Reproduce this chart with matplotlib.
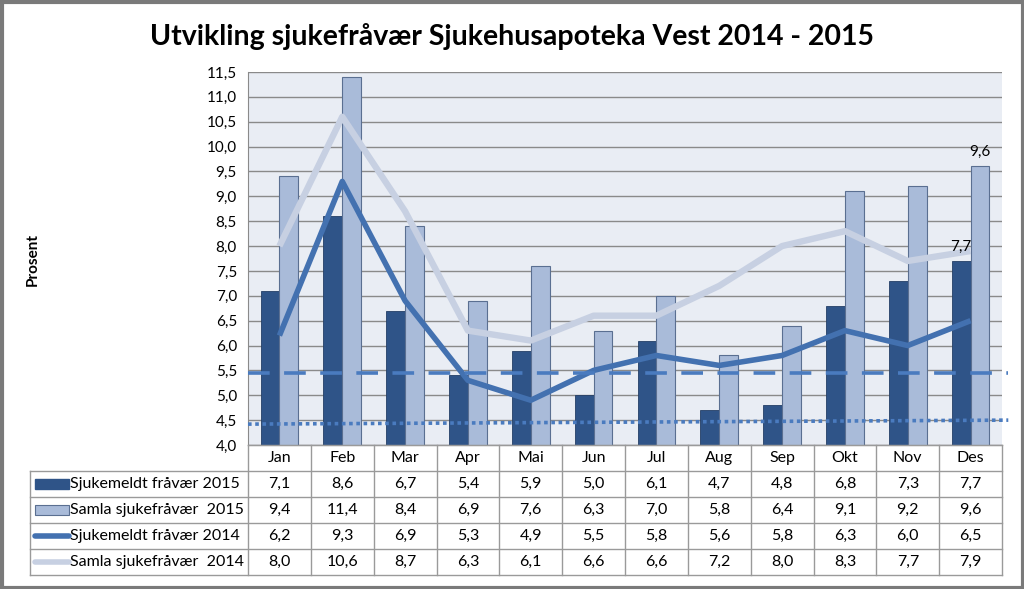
import numpy as np
import matplotlib.pyplot as plt
from matplotlib.patches import Rectangle

plt.rcParams['font.family'] = ['Lato', 'DejaVu Sans']

months = ['Jan', 'Feb', 'Mar', 'Apr', 'Mai', 'Jun', 'Jul', 'Aug', 'Sep', 'Okt', 'Nov', 'Des']
sjuk_2015 = [7.1, 8.6, 6.7, 5.4, 5.9, 5.0, 6.1, 4.7, 4.8, 6.8, 7.3, 7.7]
samla_2015 = [9.4, 11.4, 8.4, 6.9, 7.6, 6.3, 7.0, 5.8, 6.4, 9.1, 9.2, 9.6]
sjuk_2014 = [6.2, 9.3, 6.9, 5.3, 4.9, 5.5, 5.8, 5.6, 5.8, 6.3, 6.0, 6.5]
samla_2014 = [8.0, 10.6, 8.7, 6.3, 6.1, 6.6, 6.6, 7.2, 8.0, 8.3, 7.7, 7.9]
series_names = ['Sjukemeldt fråvær 2015', 'Samla sjukefråvær  2015',
                'Sjukemeldt fråvær 2014', 'Samla sjukefråvær  2014']
mal_niva = 5.45          # dashed target line
trend_start, trend_end = 4.42, 4.50   # dotted trend line

c_dark = '#2f5488'
c_light = '#a9bbd9'
c_line14 = '#4371b0'
c_line14_light = '#c7d0e2'
c_ref = '#4a7bbf'

W, H = 1024, 589
fig = plt.figure(figsize=(W / 100, H / 100), dpi=100)

# plot area in pixel terms
x0, x1, y_top, y_bot = 248, 1002, 72, 445
ax = fig.add_axes([x0 / W, 1 - y_bot / H, (x1 - x0) / W, (y_bot - y_top) / H])
ax.set_facecolor('#e9edf4')
x = np.arange(len(months))
bw = 0.3
ax.bar(x - bw / 2, sjuk_2015, bw, color=c_dark, edgecolor='#243f66', lw=0.6, zorder=2)
ax.bar(x + bw / 2, samla_2015, bw, color=c_light, edgecolor='#5a6f91', lw=0.8, zorder=2)
ax.plot(x, samla_2014, color=c_line14_light, lw=4.6, zorder=3, solid_capstyle='butt')
ax.plot(x, sjuk_2014, color=c_line14, lw=4.0, zorder=4, solid_capstyle='butt')
ax.plot([-0.5, 11.6], [mal_niva, mal_niva], color=c_ref, lw=2.6, ls=(0, (6, 4)),
        zorder=5, clip_on=False)
ax.plot([-0.5, 11.6], [trend_start, trend_end], color=c_ref, lw=2.6, ls=(0, (1, 1)),
        zorder=5, clip_on=False)

ax.text(x[-1] + bw / 2, samla_2015[-1] + 0.15, '9,6', ha='center', va='bottom', fontsize=11)
ax.text(x[-1] - bw / 2, sjuk_2015[-1] + 0.15, '7,7', ha='center', va='bottom', fontsize=11, zorder=3)

ax.set_xlim(-0.5, 11.5)
ax.set_ylim(4.0, 11.5)
yt = np.arange(4.0, 11.51, 0.5)
ax.set_yticks(yt)
ax.set_yticklabels([f'{v:.1f}'.replace('.', ',') for v in yt], fontsize=11)
ax.set_xticks([])
ax.yaxis.grid(True, color='#8a8a8a', lw=1.0)
ax.set_axisbelow(True)
ax.tick_params(axis='y', length=0, pad=8)
for s in ['top', 'right']:
    ax.spines[s].set_visible(False)
ax.spines['left'].set_color('#8a8a8a')
ax.spines['bottom'].set_color('#8a8a8a')

fig.text(33 / W, 1 - 260 / H, 'Prosent', rotation=90, ha='center', va='center',
         fontsize=11, fontweight='bold')
fig.suptitle('Utvikling sjukefråvær Sjukehusapoteka Vest 2014 - 2015', fontsize=20.5,
             fontweight='bold', y=1 - 37 / H, va='center')

# data table under the chart
tx = fig.add_axes([0, 0, 1, 1], zorder=10)
tx.set_xlim(0, W)
tx.set_ylim(H, 0)
tx.axis('off')
tx.patch.set_alpha(0)
col_w = (x1 - x0) / 12
rows = [471, 497, 523, 549, 575]
gc = '#9a9a9a'
tx.plot([x0, x1], [y_bot, y_bot], color=gc, lw=1)
for r in rows:
    tx.plot([30, x1], [r, r], color=gc, lw=1)
tx.plot([30, 30], [rows[0], rows[-1]], color=gc, lw=1)
for i in range(13):
    xx = x0 + i * col_w
    tx.plot([xx, xx], [y_bot, rows[-1]], color=gc, lw=1)
for i, m in enumerate(months):
    tx.text(x0 + (i + 0.5) * col_w, (y_bot + rows[0]) / 2, m, ha='center', va='center', fontsize=11.5)

all_series = [sjuk_2015, samla_2015, sjuk_2014, samla_2014]
for k, (name, vals) in enumerate(zip(series_names, all_series)):
    yc = (rows[k] + rows[k + 1]) / 2
    for i, v in enumerate(vals):
        tx.text(x0 + (i + 0.5) * col_w, yc, f'{v:.1f}'.replace('.', ','),
                ha='center', va='center', fontsize=11.5)
    tx.text(70, yc, name, ha='left', va='center', fontsize=11.5)
    if k == 0:
        tx.add_patch(Rectangle((35, yc - 5), 34, 10, color=c_dark))
    elif k == 1:
        tx.add_patch(Rectangle((35, yc - 5), 34, 10, facecolor=c_light, edgecolor='#5a6f91', lw=0.8))
    elif k == 2:
        tx.plot([35, 69], [yc, yc], color=c_line14, lw=4, solid_capstyle='round')
    else:
        tx.plot([35, 69], [yc, yc], color=c_line14_light, lw=4, solid_capstyle='round')

# outer border
tx.add_patch(Rectangle((1.5, 1.5), W - 3, H - 3, fill=False, edgecolor='#7a7a7a', lw=3))

fig.savefig('out.png', dpi=100)
